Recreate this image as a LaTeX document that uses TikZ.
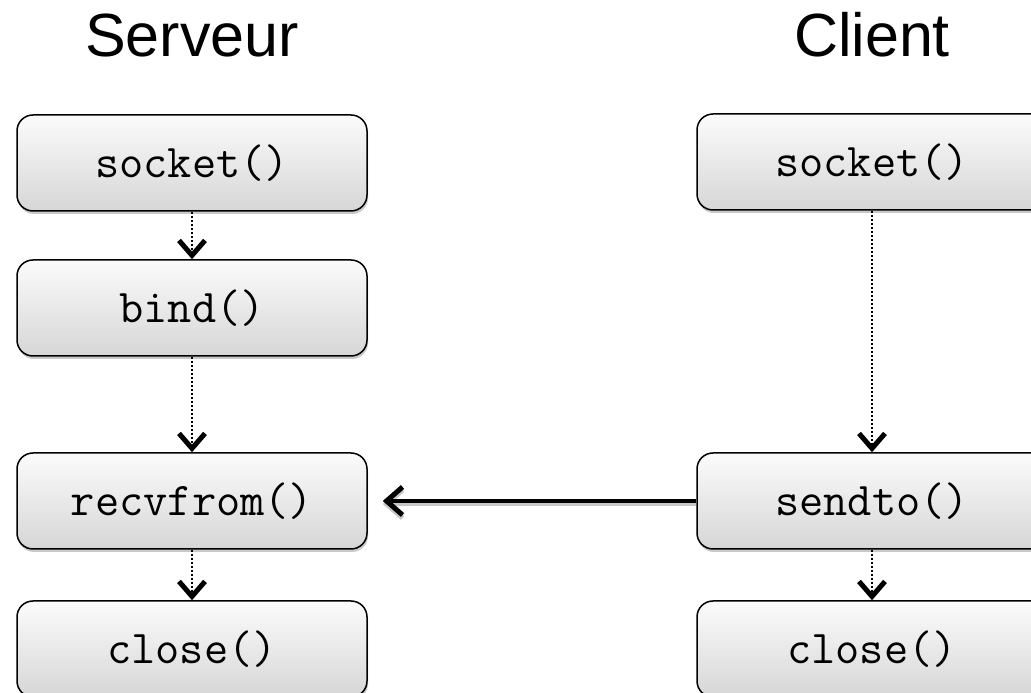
\documentclass[tikz,border=0pt]{standalone}
\usepackage{fontspec}
\newfontfamily\sansf{Liberation Sans}
\usetikzlibrary{arrows.meta,shadows}
\tikzset{
  fnbox/.style={draw=black, line width=1.5pt, rounded corners=16pt,
    minimum width=350pt, minimum height=96pt, inner sep=0pt,
    top color=gray!3, bottom color=gray!32,
    drop shadow={shadow xshift=1pt, shadow yshift=-3pt, opacity=0.35, fill=black!60},
    font=\ttfamily\fontsize{47}{52}\selectfont},
  title/.style={anchor=base, font=\sansf\fontsize{61}{70}\selectfont},
  dotarrow/.style={line width=2.2pt, dash pattern=on 2.2pt off 1.8pt,
    -{Straight Barb[length=15pt, width=26pt, line width=5pt]}},
  tipstyle/.style={-{Straight Barb[length=16pt, width=28pt, line width=5pt]}, shorten >=15pt},
  msgarrow/.style={line width=4.5pt, tipstyle}
}
\begin{document}
\begin{tikzpicture}[x=1pt,y=1pt]
\clip (0,0) rectangle (1031,693);
\useasboundingbox (0,0) rectangle (1031,693);
\fill[white] (0,0) rectangle (1031,693);
\node[title] (tserv) at (192,636) {Serveur};
\node[title] (tcli) at (872,636) {Client};
\node[fnbox] (ls) at (192,530) {socket()};
\node[fnbox] (lb) at (192,385) {bind()};
\node[fnbox] (lr) at (192,192) {recvfrom()};
\node[fnbox] (lc) at (192,44) {close()};
\node[fnbox] (rs) at (872,531) {socket()};
\node[fnbox] (rt) at (872,192) {sendto()};
\node[fnbox] (rc) at (872,44) {close()};
\draw[dotarrow] (ls.south) -- (lb.north);
\draw[dotarrow] (lb.south) -- (lr.north);
\draw[dotarrow] (lr.south) -- (lc.north);
\draw[dotarrow] (rs.south) -- (rt.north);
\draw[dotarrow] (rt.south) -- (rc.north);
\draw[msgarrow, preaction={draw=black!22, line width=4.5pt, transform canvas={yshift=-3pt}, tipstyle}] (rt.west) -- (lr.east);
\end{tikzpicture}
\end{document}
